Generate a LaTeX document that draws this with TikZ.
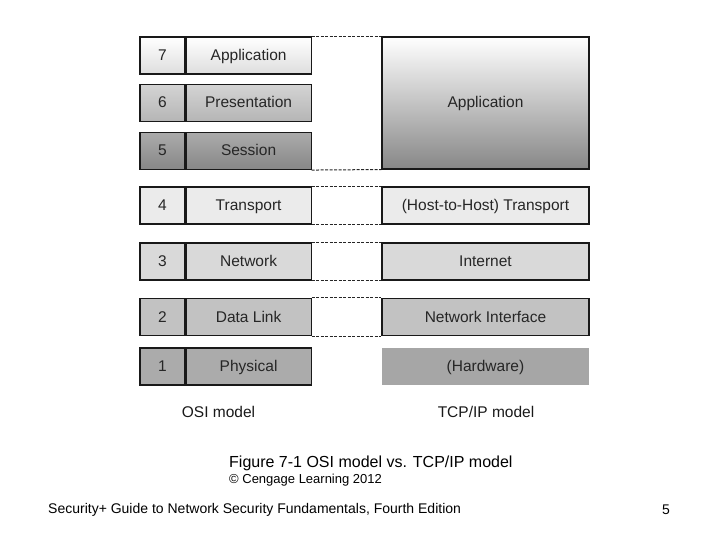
\documentclass[tikz,border=0pt]{standalone}
\usepackage{fontspec}
\setmainfont{Liberation Sans}
\begin{document}
\begin{tikzpicture}[x=1pt,y=-1pt,
  cell/.style={draw=black!90, line width=1.1pt, minimum height=37pt, inner sep=0pt,
    text height=12pt, text depth=2pt,
    font=\fontsize{15.5}{18}\selectfont, text=black!85},
  numcell/.style={cell, minimum width=45pt},
  namecell/.style={cell, minimum width=125pt},
  tcpcell/.style={cell, minimum width=207pt},
  link/.style={line width=1pt, dash pattern=on 3pt off 1.5pt, black!85},
  lbl/.style={inner sep=0pt, font=\fontsize{15.5}{18}\selectfont, text=black!90}]
\useasboundingbox (0,0) rectangle (720,540);
% OSI rows
\node[numcell, top color=white, bottom color=black!13] (n7) at (162.5,55.5) {7};
\node[namecell, top color=white, bottom color=black!13, anchor=west] (a7) at (n7.east) {Application};
\node[numcell, top color=black!17, bottom color=black!29] (n6) at (162.5,103) {6};
\node[namecell, top color=black!17, bottom color=black!29, anchor=west] (a6) at (n6.east) {Presentation};
\node[numcell, top color=black!33, bottom color=black!47] (n5) at (162.5,151) {5};
\node[namecell, top color=black!33, bottom color=black!47, anchor=west] (a5) at (n5.east) {Session};
\node[numcell, fill=black!8] (n4) at (162.5,205.5) {4};
\node[namecell, fill=black!8, anchor=west] (a4) at (n4.east) {Transport};
\node[numcell, fill=black!15] (n3) at (162.5,261.5) {3};
\node[namecell, fill=black!15, anchor=west] (a3) at (n3.east) {Network};
\node[numcell, fill=black!24] (n2) at (162.5,317) {2};
\node[namecell, fill=black!24, anchor=west] (a2) at (n2.east) {Data Link};
\node[numcell, fill=black!33] (n1) at (162.5,366.5) {1};
\node[namecell, fill=black!33, anchor=west] (a1) at (n1.east) {Physical};
% TCP/IP
\node[tcpcell, minimum height=132pt, top color=white, bottom color=black!47] (tapp) at (485.5,103) {Application};
\node[tcpcell, fill=black!8] (ttr) at (485.5,205.5) {(Host-to-Host) Transport};
\node[tcpcell, fill=black!15] (tin) at (485.5,261.5) {Internet};
\node[tcpcell, fill=black!24] (tni) at (485.5,317) {Network Interface};
\node[tcpcell, draw=none, fill=black!35] (thw) at (485.5,366.5) {(Hardware)};
% dashed links
\draw[link] (a7.north east) -- (tapp.north west);
\draw[link] (a5.south east) -- (tapp.south west);
\draw[link] (a4.north east) -- (ttr.north west);
\draw[link] (a4.south east) -- (ttr.south west);
\draw[link] (a3.north east) -- (tin.north west);
\draw[link] (a3.south east) -- (tin.south west);
\draw[link] (a2.north east) -- (tni.north west);
\draw[link] (a2.south east) -- (tni.south west);
% labels
\node[lbl] (osi) at (218.5,412) {OSI model};
\node[lbl] (tcp) at (486,412) {TCP/IP model};
\node[inner sep=0pt, font=\fontsize{16}{19}\selectfont, anchor=west] (cap) at (229,463) {Figure 7-1 OSI model vs. TCP/IP model};
\node[inner sep=0pt, font=\fontsize{13}{15}\selectfont, anchor=west] (copy) at (229,480) {© Cengage Learning 2012};
\node[inner sep=0pt, font=\fontsize{14}{16}\selectfont, anchor=west] (foot) at (48,510) {Security+ Guide to Network Security Fundamentals, Fourth Edition};
\node[inner sep=0pt, font=\fontsize{14}{16}\selectfont] (pg) at (666,510) {5};
\end{tikzpicture}
\end{document}
